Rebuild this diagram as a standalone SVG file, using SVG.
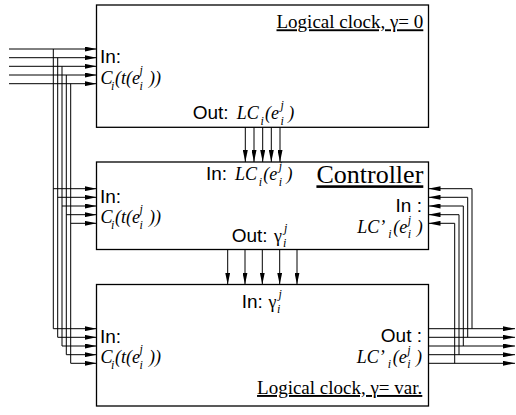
<svg xmlns="http://www.w3.org/2000/svg" width="516" height="415" viewBox="0 0 516 415">
<style>
.box{fill:#fff;stroke:#000;stroke-width:1.3}
.w{fill:none;stroke:#000;stroke-width:1}
.sans{font-family:"Liberation Sans",Arial,sans-serif;font-size:19px;fill:#000}
.m{font-family:"Liberation Serif","Times New Roman",serif;font-style:italic;font-size:18px;fill:#000}
.s{font-size:12px}
.g{font-style:normal}
.title{font-family:"Liberation Serif","Times New Roman",serif;font-size:19px;fill:#000;text-decoration:underline}
</style>
<defs>
<marker id="ah" viewBox="0 0 12 5" refX="12" refY="2.5" markerWidth="12" markerHeight="5" markerUnits="userSpaceOnUse" orient="auto">
<path d="M0,0 L12,2.5 L0,5 z" fill="#000"/>
</marker>
</defs>
<g id="logical-clock-top">
<rect class="box" x="96.5" y="5" width="332" height="122.3"/>
<text class="title" x="423.3" y="28.3" text-anchor="end">Logical clock, γ= 0</text>
<text class="sans" x="100" y="62.7">In:</text>
<text class="m"><tspan x="100.5" y="84">C</tspan><tspan class="s" x="111" y="89.5">i</tspan><tspan x="115" y="84">(t(e</tspan><tspan class="s" x="139.5" y="74">j</tspan><tspan class="s" x="139.5" y="89.5">i</tspan><tspan x="149" y="84">))</tspan></text>
<text class="sans" x="192.7" y="119.3">Out:</text>
<text class="m"><tspan x="236.7" y="119.3">LC</tspan><tspan class="s" x="260.5" y="124.8">i</tspan><tspan x="265" y="119.3">(e</tspan><tspan class="s" x="280.5" y="109.3">j</tspan><tspan class="s" x="280.5" y="124.8">i</tspan><tspan x="288.2" y="119.3">)</tspan></text>
</g>
<g id="controller">
<rect class="box" x="96.5" y="162" width="332" height="87.5"/>
<text class="title" x="423.3" y="183.3" text-anchor="end" style="font-size:26px">Controller</text>
<text class="sans" x="206" y="180">In:</text>
<text class="m"><tspan x="235" y="180">LC</tspan><tspan class="s" x="258.8" y="185.5">i</tspan><tspan x="263.3" y="180">(e</tspan><tspan class="s" x="278.8" y="170">j</tspan><tspan class="s" x="278.8" y="185.5">i</tspan><tspan x="286.5" y="180">)</tspan></text>
<text class="sans" x="100" y="202.7">In:</text>
<text class="m"><tspan x="100.5" y="223.3">C</tspan><tspan class="s" x="111" y="228.8">i</tspan><tspan x="115" y="223.3">(t(e</tspan><tspan class="s" x="139.5" y="213.3">j</tspan><tspan class="s" x="139.5" y="228.8">i</tspan><tspan x="149" y="223.3">))</tspan></text>
<text class="sans" x="422" y="211.7" text-anchor="end">In :</text>
<text class="m"><tspan x="357.3" y="232.7">LC’</tspan><tspan class="s" x="388.3" y="238.2">i</tspan><tspan x="393.3" y="232.7">(e</tspan><tspan class="s" x="407.8" y="223.5">j</tspan><tspan class="s" x="407.8" y="238.2">i</tspan><tspan x="416.7" y="232.7">)</tspan></text>
<text class="sans" x="231.7" y="241.7">Out:</text>
<text class="m"><tspan class="g" x="274" y="241.7">γ</tspan><tspan class="s" x="284" y="231.7">j</tspan><tspan class="s" x="283" y="247.2">i</tspan></text>
</g>
<g id="logical-clock-var">
<rect class="box" x="96.5" y="284.5" width="332" height="121.5"/>
<text class="sans" x="241.7" y="307.5">In:</text>
<text class="m"><tspan class="g" x="268.5" y="307.5">γ</tspan><tspan class="s" x="278.5" y="297.5">j</tspan><tspan class="s" x="277" y="313">i</tspan></text>
<text class="sans" x="100" y="342.7">In:</text>
<text class="m"><tspan x="100.5" y="363.3">C</tspan><tspan class="s" x="111" y="368.8">i</tspan><tspan x="115" y="363.3">(t(e</tspan><tspan class="s" x="139.5" y="353.3">j</tspan><tspan class="s" x="139.5" y="368.8">i</tspan><tspan x="149" y="363.3">))</tspan></text>
<text class="sans" x="422" y="341.7" text-anchor="end">Out :</text>
<text class="m"><tspan x="356.7" y="362.7">LC’</tspan><tspan class="s" x="387.7" y="368.2">i</tspan><tspan x="392.7" y="362.7">(e</tspan><tspan class="s" x="407.2" y="353.5">j</tspan><tspan class="s" x="407.2" y="368.2">i</tspan><tspan x="416.1" y="362.7">)</tspan></text>
<text class="title" x="422.3" y="394" text-anchor="end">Logical clock, γ= var.</text>
</g>
<g id="connectors">
<path class="w" marker-end="url(#ah)" d="M9,49 H96.5"/>
<path class="w" marker-end="url(#ah)" d="M9,57.7 H96.5"/>
<path class="w" marker-end="url(#ah)" d="M9,66.3 H96.5"/>
<path class="w" marker-end="url(#ah)" d="M9,75 H96.5"/>
<path class="w" marker-end="url(#ah)" d="M9,83.7 H96.5"/>
<path class="w" marker-end="url(#ah)" d="M53.3,49 V328.7 H96.5"/>
<path class="w" marker-end="url(#ah)" d="M57.7,57.7 V337.3 H96.5"/>
<path class="w" marker-end="url(#ah)" d="M62,66.3 V346 H96.5"/>
<path class="w" marker-end="url(#ah)" d="M66.3,75 V354.7 H96.5"/>
<path class="w" marker-end="url(#ah)" d="M70.7,83.7 V363.3 H96.5"/>
<path class="w" marker-end="url(#ah)" d="M53.3,188.7 H96.5"/>
<path class="w" marker-end="url(#ah)" d="M57.7,197.3 H96.5"/>
<path class="w" marker-end="url(#ah)" d="M62,206 H96.5"/>
<path class="w" marker-end="url(#ah)" d="M66.3,214.7 H96.5"/>
<path class="w" marker-end="url(#ah)" d="M70.7,223.3 H96.5"/>
<path class="w" marker-end="url(#ah)" d="M245.3,127.3 V162"/>
<path class="w" marker-end="url(#ah)" d="M254,127.3 V162"/>
<path class="w" marker-end="url(#ah)" d="M262.7,127.3 V162"/>
<path class="w" marker-end="url(#ah)" d="M271.3,127.3 V162"/>
<path class="w" marker-end="url(#ah)" d="M280,127.3 V162"/>
<path class="w" marker-end="url(#ah)" d="M227.7,249.5 V284.5"/>
<path class="w" marker-end="url(#ah)" d="M245,249.5 V284.5"/>
<path class="w" marker-end="url(#ah)" d="M262.3,249.5 V284.5"/>
<path class="w" marker-end="url(#ah)" d="M279.7,249.5 V284.5"/>
<path class="w" marker-end="url(#ah)" d="M297,249.5 V284.5"/>
<path class="w" marker-end="url(#ah)" d="M472,328.7 V188.7 H428.5"/>
<path class="w" marker-end="url(#ah)" d="M467.7,337.3 V197.3 H428.5"/>
<path class="w" marker-end="url(#ah)" d="M463.3,346 V206 H428.5"/>
<path class="w" marker-end="url(#ah)" d="M459,354.7 V214.7 H428.5"/>
<path class="w" marker-end="url(#ah)" d="M454.7,363.3 V223.3 H428.5"/>
<path class="w" marker-end="url(#ah)" d="M428.5,328.7 H515"/>
<path class="w" marker-end="url(#ah)" d="M428.5,337.3 H515"/>
<path class="w" marker-end="url(#ah)" d="M428.5,346 H515"/>
<path class="w" marker-end="url(#ah)" d="M428.5,354.7 H515"/>
<path class="w" marker-end="url(#ah)" d="M428.5,363.3 H515"/>
</g>
</svg>
